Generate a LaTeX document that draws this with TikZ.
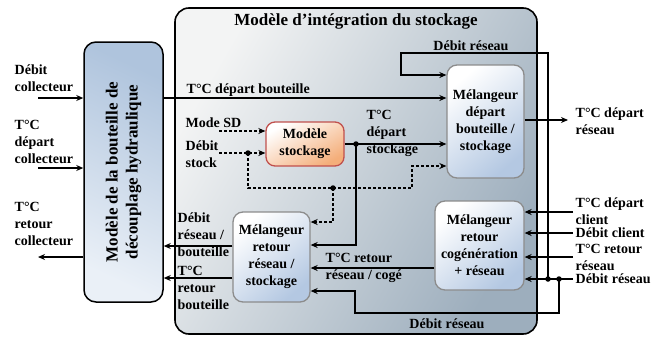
\documentclass[tikz,border=0pt]{standalone}
\usepackage{fontspec}
\setmainfont{Liberation Serif}
\usetikzlibrary{arrows.meta,calc}
\definecolor{outTL}{HTML}{F3F4F4}
\definecolor{outBR}{HTML}{9DAEBD}
\definecolor{blueL}{HTML}{EAF0F7}
\definecolor{blueD}{HTML}{AFC4DD}
\definecolor{mixD}{HTML}{B4C8E2}
\definecolor{orgD}{HTML}{F4AE7A}
\definecolor{redB}{HTML}{C0504D}
\definecolor{grayB}{HTML}{8C8C8C}
\begin{document}
\begin{tikzpicture}[x=1pt,y=-1pt,
  font=\fontsize{14}{17}\selectfont\bfseries,
  line width=1.4pt,
  arr/.style={-{Stealth[length=7pt,width=6pt]}},
  dsh/.style={dash pattern=on 3pt off 2pt},
  lbl/.style={inner sep=0pt, align=left, anchor=west},
  mix/.style={draw=grayB, line width=1.3pt, rounded corners=10pt, align=center, inner sep=0pt,
    top color=white, bottom color=mixD, shading angle=40},
  dot/.style={circle, fill=black, inner sep=0pt, minimum size=5.5pt},
]
\useasboundingbox (0,0) rectangle (665,338);

% outer integration box
\node[draw, line width=1.6pt, rounded corners=14pt, minimum width=362pt, minimum height=326pt,
  top color=outTL, bottom color=outBR, shading angle=60, inner sep=0pt] (int) at (356,171) {};
\node[font=\fontsize{17}{20}\selectfont\bfseries] (title) at (356,21) {Modèle d’intégration du stockage};

% hydraulic separator box
\node[draw, line width=1.5pt, rounded corners=12pt, minimum width=79pt, minimum height=260pt,
  top color=blueD, bottom color=blueL, shading angle=-25, inner sep=0pt] (bout) at (123.5,172) {};
\node[rotate=90, align=center, font=\fontsize{17}{20}\selectfont\bfseries] (boutT) at (bout.center)
  {Modèle de la bouteille de\\découplage hydraulique};

% inner blocks
\node[mix, minimum width=77pt, minimum height=113pt] (mixd) at (485.5,121.5)
  {Mélangeur\\départ\\bouteille /\\stockage};
\node[draw=redB, line width=1.3pt, rounded corners=9pt, align=center, inner sep=0pt,
  top color=white, bottom color=orgD, shading angle=30,
  minimum width=78pt, minimum height=44pt] (stk) at (305,144) {Modèle\\stockage};
\node[mix, minimum width=77pt, minimum height=90pt] (mixr) at (271.5,257)
  {Mélangeur\\retour\\réseau /\\stockage};
\node[mix, minimum width=89pt, minimum height=89pt] (mixc) at (479.5,245.5)
  {Mélangeur\\retour\\cogénération\\+ réseau};

% free ends and junctions
\coordinate (in1) at (38,98);
\coordinate (in2) at (38,168);
\coordinate (out3) at (38,257);
\coordinate (msd) at (219,131);
\coordinate (dst) at (219,153);
\coordinate (rout) at (568,120);
\coordinate (rin1) at (573,212);
\coordinate (rin2) at (573,233);
\coordinate (rin3) at (573,257);
\coordinate (rin4) at (573,279);
\coordinate (J1) at (548,279);
\coordinate (J2) at (559,279);
\coordinate (J3) at (356,144);
\coordinate (J4) at (248,153);
\coordinate (J5) at (333,188);

% left side connectors
\draw[arr] (in1) -- (in1 -| bout.west);
\draw[arr] (in2) -- (in2 -| bout.west);
\draw[arr] (out3 -| bout.west) -- (out3);
\draw[arr] (in1 -| bout.east) -- (in1 -| mixd.west);
\draw[arr] (mixr.west |- 0,246) -- (bout.east |- 0,246);
\draw[arr] (mixr.west |- 0,278) -- (bout.east |- 0,278);

% stockage
\draw[arr,dsh] (msd) -- (msd -| stk.west);
\draw[arr,dsh] (dst) -- (dst -| stk.west);
\draw[arr] (stk.east) -- (stk.east -| mixd.west);
\draw[arr] (J3) -- (356,245) -- (mixr.east |- 0,245);
\draw[arr,dsh] (J4) -- (248,188) -- (412,188) -- (412,166) -- (mixd.west |- 0,166);
\draw[arr,dsh] (J5) -- (333,222) -- (mixr.east |- 0,222);

% débit réseau loops
\draw[arr] (J1) -- (548,53) -- (401,53) -- (401,75) -- (mixd.west |- 0,75);
\draw[arr] (J2) -- (559,313) -- (355,313) -- (355,291) -- (mixr.east |- 0,291);

% right side
\draw[arr] (mixd.east |- rout) -- (rout);
\draw[arr] (rin1) -- (rin1 -| mixc.east);
\draw[arr] (rin2) -- (rin2 -| mixc.east);
\draw[arr] (rin3) -- (rin3 -| mixc.east);
\draw[arr] (rin4) -- (rin4 -| mixc.east);
\draw[arr] (mixc.west |- 0,268) -- (mixr.east |- 0,268);

% dots
\foreach \j in {J1,J2,J3,J4,J5} \node[dot] at (\j) {};

% labels
\node[lbl] (l1) at (14,78.5) {Débit\\collecteur};
\node[lbl] (l2) at (14,141.5) {T°C\\départ\\collecteur};
\node[lbl] (l3) at (14,223.5) {T°C\\retour\\collecteur};
\node[lbl] (l4) at (186,90) {T°C départ bouteille};
\node (l5) at (471,46) {Débit réseau};
\node[lbl] (l6) at (185,123) {Mode SD};
\node[lbl] (l7) at (185,154.5) {Débit\\stock};
\node[lbl] (l8) at (366,133) {T°C\\départ\\stockage};
\node[lbl] (l9) at (575,121.5) {T°C départ\\réseau};
\node[lbl] (l10) at (575,211) {T°C départ\\client};
\node[lbl] (l11) at (575,233) {Débit client};
\node[lbl] (l12) at (575,257) {T°C retour\\réseau};
\node[lbl] (l13) at (575,279) {Débit réseau};
\node[lbl] (l14) at (177,234.5) {Débit\\réseau /\\bouteille};
\node[lbl] (l15) at (177,288) {T°C\\retour\\bouteille};
\node[lbl] (l16) at (325,268) {T°C retour\\réseau / cogé};
\node (l17) at (447,324) {Débit réseau};
\end{tikzpicture}
\end{document}
